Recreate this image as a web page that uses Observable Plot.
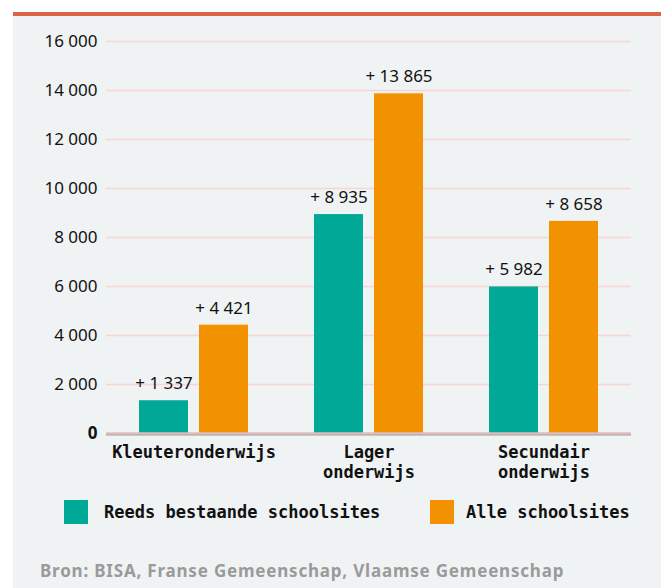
<!DOCTYPE html>
<html><head><meta charset="utf-8">
<script src="https://cdn.jsdelivr.net/npm/d3@7"></script>
<script src="https://cdn.jsdelivr.net/npm/@observablehq/plot@0.6"></script>
<style>
html,body{margin:0;padding:0;background:#fff;}
body{width:661px;height:588px;overflow:hidden;position:relative;}
#panel{position:absolute;left:13px;top:12px;width:648px;height:576px;background:#eff3f4;border-top:4px solid #d9644a;box-sizing:border-box;}
#chart{position:absolute;left:0;top:0;}
#chart svg{background:transparent;overflow:visible;}
.legend{position:absolute;top:500px;left:0;width:661px;height:24px;font-family:"DejaVu Sans Mono";font-weight:bold;font-size:17px;color:#111;}
.legend .sw{position:absolute;top:0;width:24px;height:24px;}
.legend .lb{position:absolute;top:0;line-height:24px;white-space:nowrap;}
.caption{position:absolute;left:40px;top:560px;font-family:"Noto Sans";font-weight:bold;font-size:17px;letter-spacing:0.8px;color:#9a9a9a;white-space:nowrap;line-height:22px;}
</style></head>
<body>
<div id="panel"></div>
<div id="chart"></div>
<div class="legend" id="legend"></div>
<div class="caption" id="caption"></div>
<script>
const categories = ["Kleuteronderwijs", "Lager onderwijs", "Secundair onderwijs"];
const categoryLabels = ["Kleuteronderwijs", "Lager\nonderwijs", "Secundair\nonderwijs"];
const series = ["Reeds bestaande schoolsites", "Alle schoolsites"];
const existingSites = [1337, 8935, 5982];
const allSites = [4421, 13865, 8658];
const yTicks = [0, 2000, 4000, 6000, 8000, 10000, 12000, 14000, 16000];
const colors = ["#00a896", "#f39200"];
const captionText = "Bron: BISA, Franse Gemeenschap, Vlaamse Gemeenschap";

const data = [];
categories.forEach((c, i) => {
  data.push({cat: c, series: series[0], value: existingSites[i]});
  data.push({cat: c, series: series[1], value: allSites[i]});
});
const grp = d3.format(",");
const fmtTick = v => grp(v).replace(/,/g, " ");
const fmtVal = v => "+ " + grp(v).replace(/,/g, " ");
const labelOf = c => categoryLabels[categories.indexOf(c)];

const chart = Plot.plot({
  width: 661, height: 490,
  marginLeft: 105, marginRight: 29, marginTop: 41, marginBottom: 57,
  style: {background: "transparent"},
  fx: {domain: categories, padding: 0, label: null, axis: null},
  x: {domain: series, paddingInner: 0.18, paddingOuter: 0.53, axis: null},
  y: {domain: [0, 16000], label: null},
  color: {domain: series, range: colors},
  marks: [
    Plot.ruleY(yTicks.filter(d => d > 0), {stroke: "#fbd3d3", strokeWidth: 1.5}),
    Plot.barY(data, {fx: "cat", x: "series", y: "value", fill: "series"}),
    Plot.ruleY([0], {stroke: "#e2bcbc", strokeWidth: 2.5}),
    Plot.ruleY([0], {stroke: "#9c9c9c", strokeWidth: 1, dy: 1.5}),
    Plot.text(data, {fx: "cat", x: "series", y: "value", text: d => fmtVal(d.value), dy: -17, fontSize: 17, fontFamily: "Noto Sans", fill: "#111"}),
    Plot.axisY({ticks: yTicks, tickSize: 0, tickPadding: 9, tickFormat: fmtTick, fontSize: 17, fontFamily: "Noto Sans", label: null, fill: "#111"}),
    Plot.axisFx({anchor: "bottom", tickSize: 0, tickPadding: 10, tickFormat: labelOf, fontSize: 17, fontWeight: "bold", fontFamily: "DejaVu Sans Mono", lineHeight: 1.2, label: null, fill: "#111"})
  ]
});
document.getElementById("chart").appendChild(chart);
d3.select(chart).selectAll("text").filter(function() { return this.textContent === "0"; }).attr("font-weight", "bold").attr("font-size", 17);

const legend = document.getElementById("legend");
const swX = [64, 430], lbX = [104, 466];
series.forEach((s, i) => {
  const sw = document.createElement("div"); sw.className = "sw"; sw.style.left = swX[i] + "px"; sw.style.background = colors[i]; legend.appendChild(sw);
  const lb = document.createElement("div"); lb.className = "lb"; lb.style.left = lbX[i] + "px"; lb.textContent = s; legend.appendChild(lb);
});
document.getElementById("caption").textContent = captionText;
</script>
</body></html>
